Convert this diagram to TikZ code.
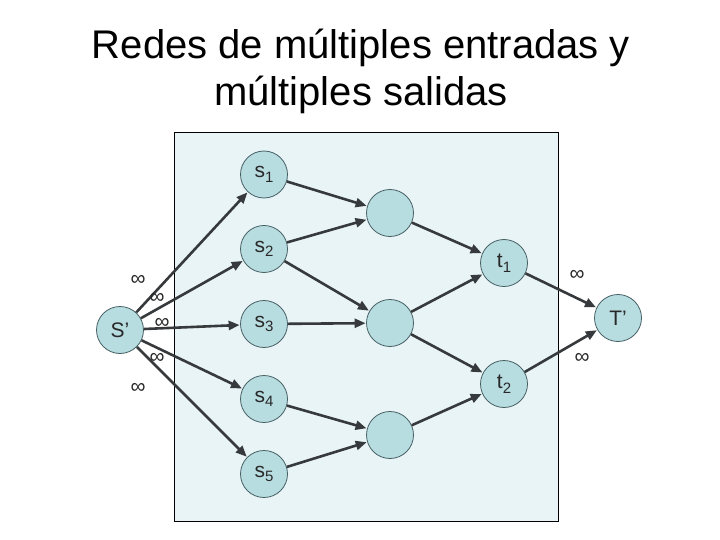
\documentclass[tikz,border=0pt]{standalone}
\usepackage{fontspec}
\setmainfont{Liberation Sans}
\newfontfamily\symfont{DejaVu Sans}
\usetikzlibrary{arrows.meta}
\definecolor{nodefill}{RGB}{184,221,225}
\definecolor{boxfill}{RGB}{232,244,246}
\definecolor{edgecol}{RGB}{55,58,60}
\definecolor{rimcol}{RGB}{70,95,100}
\definecolor{txtcol}{RGB}{40,40,40}
\tikzset{
  vert/.style={circle, draw=rimcol, line width=0.8pt, fill=nodefill, minimum size=47pt, inner sep=0pt, font=\fontsize{21}{22}\selectfont, text=txtcol},
  edge/.style={draw=edgecol, line width=2.6pt, -{Triangle[length=11pt,width=9pt]}, shorten >=0.5pt},
  inf/.style={font=\fontsize{21}{22}\selectfont, text=txtcol, inner sep=0pt},
  ttl/.style={font=\fontsize{40}{47}\selectfont, align=center}
}
\newcommand{\sub}[1]{\raisebox{-0.4ex}{\fontsize{15}{16}\selectfont #1}}
\begin{document}
\begin{tikzpicture}[x=1pt,y=-1pt]
\useasboundingbox (0,0) rectangle (720,540);
\node[ttl] (title) at (361,71) {Redes de múltiples entradas y\\múltiples salidas};
\node[draw=black, line width=0.8pt, fill=boxfill, minimum width=384pt, minimum height=389pt, inner sep=0pt] (box) at (366,327) {};
\node[vert] (S) at (120,330) {S'};
\node[vert] (s1) at (264,174.5) {s\sub{1}};
\node[vert] (s2) at (264,249) {s\sub{2}};
\node[vert] (s3) at (264,324) {s\sub{3}};
\node[vert] (s4) at (264,399) {s\sub{4}};
\node[vert] (s5) at (264,474) {s\sub{5}};
\node[vert] (m1) at (390,213) {};
\node[vert] (m2) at (390,323) {};
\node[vert] (m3) at (390,435) {};
\node[vert] (t1) at (504,263) {t\sub{1}};
\node[vert] (t2) at (504,384) {t\sub{2}};
\node[vert] (T) at (618,318) {T'};
\foreach \a/\b in {S/s1,S/s2,S/s3,S/s4,S/s5,s1/m1,s2/m1,s2/m2,s3/m2,s4/m3,s5/m3,m1/t1,m2/t1,m2/t2,m3/t2,t1/T,t2/T}
  \draw[edge] (\a) -- (\b);
\node[inf] (i1) at (138,280) {∞};
\node[inf] (i2) at (157,298) {∞};
\node[inf] (i3) at (162,323) {∞};
\node[inf] (i4) at (157,358) {∞};
\node[inf] (i5) at (138,388) {∞};
\node[inf] (i6) at (577,275) {∞};
\node[inf] (i7) at (582,358) {∞};
\end{tikzpicture}
\end{document}
